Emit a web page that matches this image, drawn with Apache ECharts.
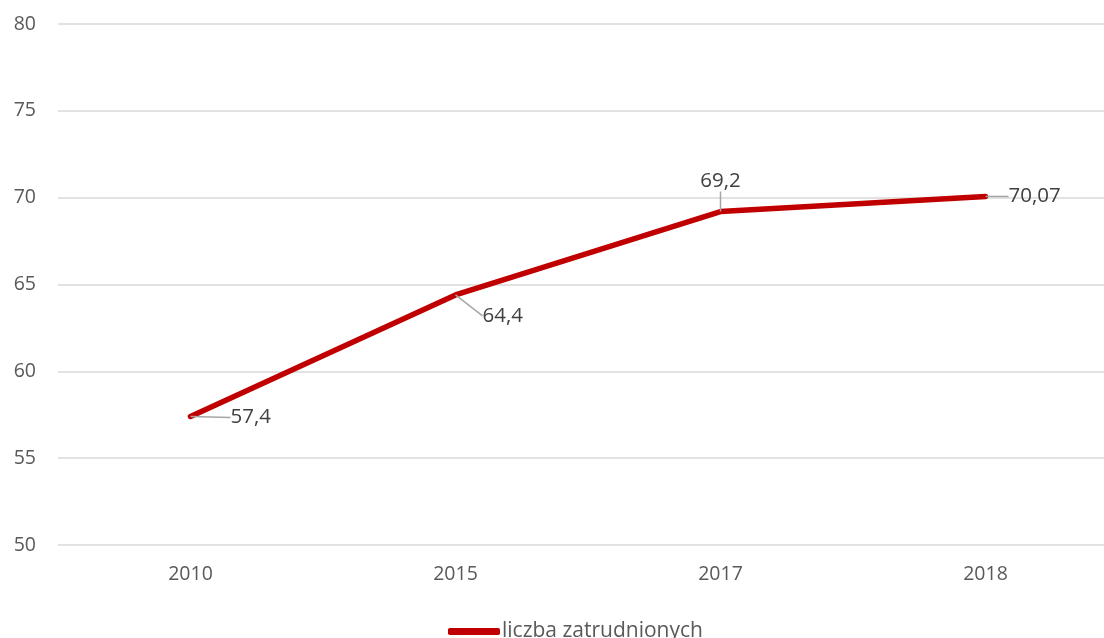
<!DOCTYPE html>
<html>
<head>
<meta charset="utf-8">
<script src="https://cdn.jsdelivr.net/npm/echarts@6/dist/echarts.min.js"></script>
<style>html,body{margin:0;padding:0;background:#fff;overflow:hidden;width:1104px;height:638px;}#chart{width:1122px;height:638px;}</style>
</head>
<body>
<div id="chart"></div>
<script>
const categories = ['2010', '2015', '2017', '2018'];
const values = [57.4, 64.4, 69.2, 70.07];
const valueLabels = ['57,4', '64,4', '69,2', '70,07'];
const seriesName = 'liczba zatrudnionych';

const labelShifts = [
  { dx: 35, dy: 1 },
  { dx: 22, dy: 21 },
  { dx: 0, dy: -15 },
  { dx: 18, dy: 0 }
];
const labelPositions = ['right', 'right', 'top', 'right'];

const chart = echarts.init(document.getElementById('chart'));
const font = '"Open Sans", "Noto Sans", sans-serif';
chart.setOption({
  animation: false,
  textStyle: { fontFamily: font },
  grid: { left: 58, top: 24, width: 1060, height: 521 },
  xAxis: {
    type: 'category',
    data: categories,
    boundaryGap: true,
    axisLine: { show: false },
    axisTick: { show: false },
    axisLabel: { color: '#595959', fontSize: 19.5, margin: 19, fontFamily: font }
  },
  yAxis: {
    type: 'value',
    min: 50, max: 80, interval: 5,
    axisLine: { show: false },
    axisTick: { show: false },
    axisLabel: { color: '#595959', fontSize: 19.5, margin: 22, fontFamily: font },
    splitLine: { lineStyle: { color: '#d9d9d9', width: 1.5 } }
  },
  legend: {
    left: 443, top: 616,
    itemWidth: 52, itemHeight: 7,
    icon: 'roundRect',
    itemGap: 10,
    textStyle: { color: '#595959', fontSize: 21, fontFamily: font, padding: [0, 0, 0, -3] },
    data: [{ name: seriesName, itemStyle: { color: '#C00000' } }]
  },
  series: [{
    name: seriesName,
    type: 'line',
    data: values.map((v, i) => ({
      value: v,
      label: { position: labelPositions[i] }
    })),
    symbol: 'circle',
    symbolSize: 0.1,
    showSymbol: true,
    lineStyle: { color: '#C00000', width: 5.5, cap: 'round' },
    itemStyle: { color: '#C00000' },
    label: {
      show: true,
      color: '#404040',
      fontSize: 20.5,
      fontFamily: font,
      formatter: p => valueLabels[p.dataIndex]
    },
    labelLine: { show: true, lineStyle: { color: '#a6a6a6', width: 1.5 } },
    labelLayout: p => ({ dx: labelShifts[p.dataIndex].dx, dy: labelShifts[p.dataIndex].dy })
  }]
});
</script>
</body>
</html>
